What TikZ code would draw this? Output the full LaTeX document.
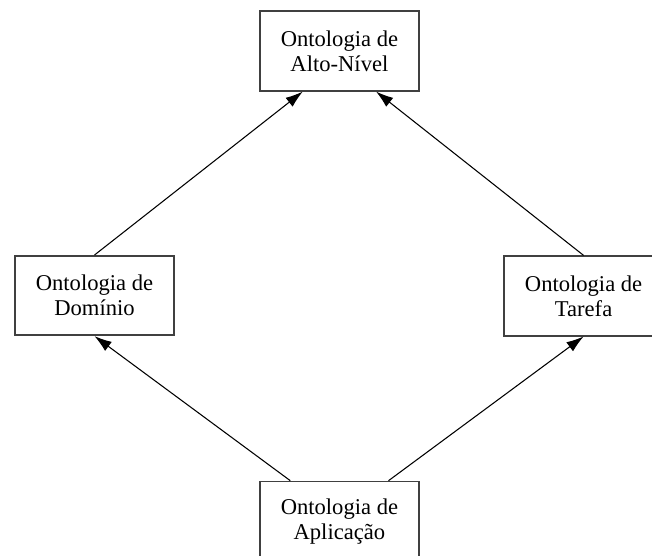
\documentclass[tikz,border=0pt]{standalone}
\usepackage{fontspec}
\setmainfont{Liberation Serif}
\usetikzlibrary{positioning}
\usetikzlibrary{arrows.meta}

\begin{document}
\begin{tikzpicture}[
		ontbox/.style={draw=black!75, line width=1.3pt, minimum width=4.2cm, minimum height=2.1cm, align=center, font=\fontsize{17}{18.75}\selectfont},
		seta/.style={draw=black, line width=0.8pt, -{Latex[length=13pt,width=8.5pt]}}
	]
				\clip (0,0) rectangle (17.25,14.71);

				%Nodes
				\node[ontbox] (alto) 		at 	(8.98,13.36) 	{Ontologia de\\Alto-Nível};
				\node[ontbox] (dominio) 	at 	(2.50,6.89) 	{Ontologia de\\Domínio};
				\node[ontbox] (tarefa) 		at 	(15.44,6.88) 	{Ontologia de\\Tarefa};
				\node[ontbox] (aplicacao) 	at 	(8.98,0.92) 	{Ontologia de\\Aplicação};

				%Lines
				\draw[seta] (dominio.north) -- ([xshift=-9.7mm]alto.south);
				\draw[seta] (tarefa.north) -- ([xshift=9.7mm]alto.south);
				\draw[seta] ([xshift=-13mm]aplicacao.north) -- (dominio.south);
				\draw[seta] ([xshift=13mm]aplicacao.north) -- (tarefa.south);

\end{tikzpicture}
\end{document}
